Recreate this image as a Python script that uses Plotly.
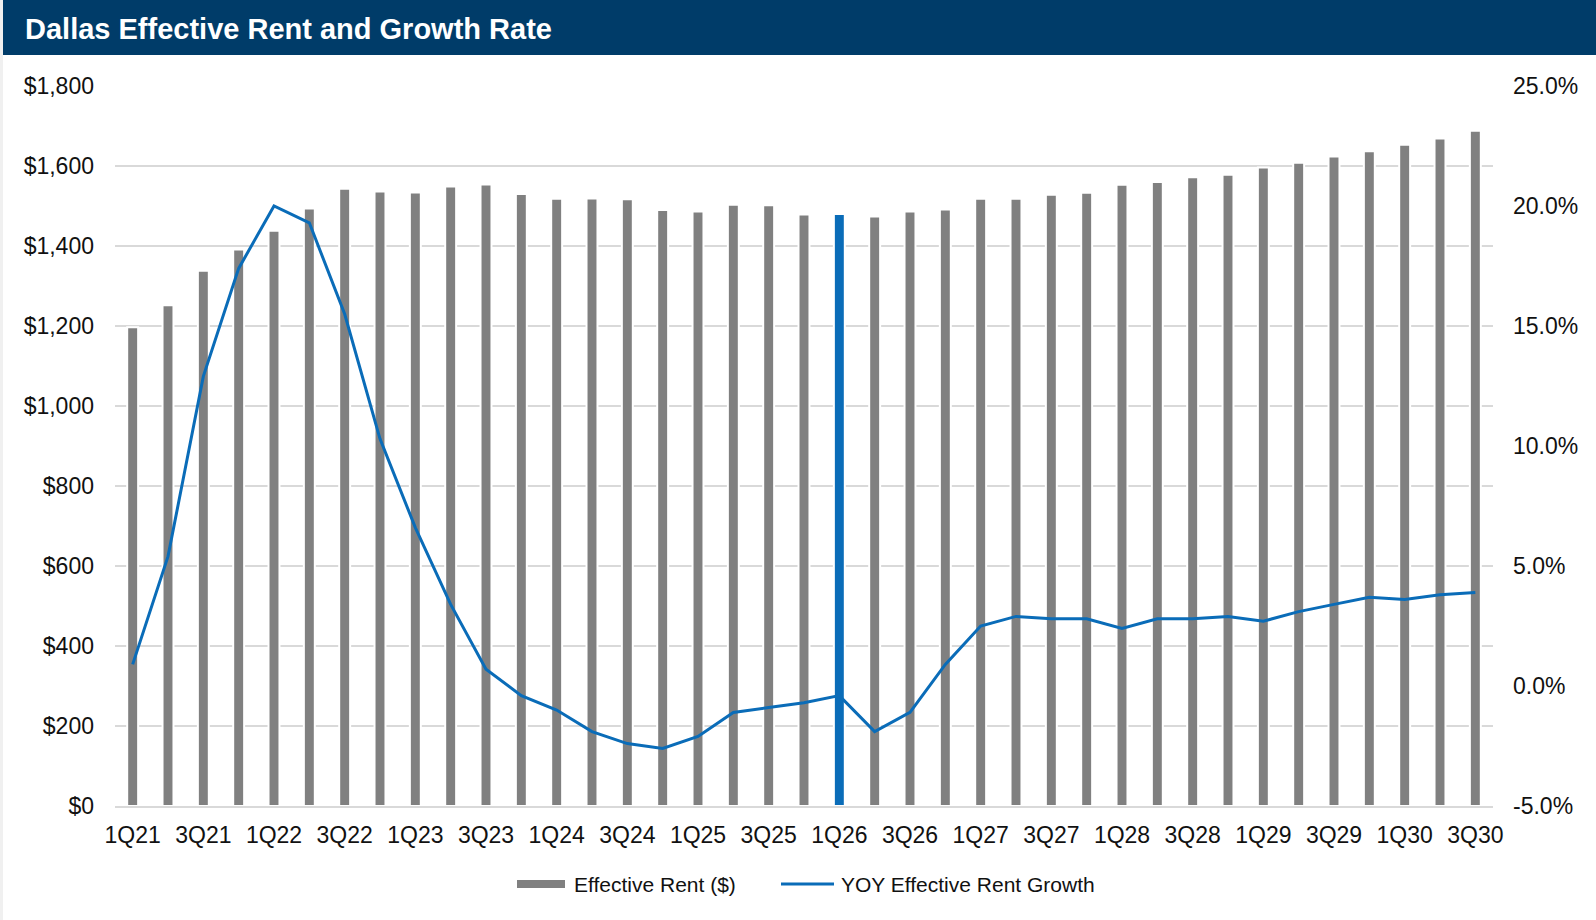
import plotly.graph_objects as go

# Quarterly periods, 1Q21 through 3Q30
quarters = [f"{q}Q{y:02d}" for y in range(21, 31) for q in range(1, 5)][:39]

# Effective rent ($ per unit)
effective_rent = [1197, 1252, 1338, 1391, 1438, 1494, 1543, 1536,
                  1534, 1549, 1554, 1530, 1518, 1519, 1517, 1490,
                  1486, 1503, 1502, 1479, 1480, 1474, 1486, 1491,
                  1518, 1518, 1528, 1533, 1553, 1560, 1572, 1578,
                  1596, 1608, 1624, 1637, 1653, 1669, 1688]

# Year-over-year effective rent growth (%)
yoy_growth = [0.9, 5.4, 12.9, 17.4, 20.0, 19.3, 15.5, 10.3,
              6.6, 3.4, 0.7, -0.4, -1.0, -1.9, -2.4, -2.6,
              -2.1, -1.1, -0.9, -0.7, -0.4, -1.9, -1.1, 0.9,
              2.5, 2.9, 2.8, 2.8, 2.4, 2.8, 2.8, 2.9,
              2.7, 3.1, 3.4, 3.7, 3.6, 3.8, 3.9]

tick_labels = quarters[::2]
growth_ticks = [-5, 0, 5, 10, 15, 20, 25]
growth_tick_text = [f"{v:.1f}%" for v in growth_ticks]
current_quarter = "1Q26"

title_text = "Dallas Effective Rent and Growth Rate"
rent_name = "Effective Rent ($)"
growth_name = "YOY Effective Rent Growth"

GRAY = "#808080"
BLUE = "#0A6CB8"
NAVY = "#003C69"
GRID = "#D9D9D9"
TEXT = "#111111"
FONT = "Liberation Sans, Arial, sans-serif"

W, H = 1596, 920
ML, MR, MT, MB = 115, 103, 86, 114
PW, PH = W - ML - MR, H - MT - MB


def px_x(px):
    return (px - ML) / PW


def px_y(py):
    return (H - MB - py) / PH


bar_colors = [BLUE if q == current_quarter else GRAY for q in quarters]

fig = go.Figure()
fig.add_trace(go.Bar(
    x=quarters, y=effective_rent, name=rent_name,
    marker=dict(color=bar_colors, line=dict(color="white", width=2)),
    width=0.31, yaxis="y", showlegend=False,
))
fig.add_trace(go.Scatter(
    x=quarters, y=yoy_growth, name=growth_name, mode="lines",
    line=dict(color=BLUE, width=3), yaxis="y2", showlegend=False,
))

shapes = [
    # header band
    dict(type="rect", xref="paper", yref="paper",
         x0=px_x(3), x1=px_x(W + 2), y0=px_y(55), y1=px_y(-2),
         fillcolor=NAVY, line=dict(width=0), layer="below"),
    # thin left frame strip
    dict(type="rect", xref="paper", yref="paper",
         x0=px_x(-2), x1=px_x(3), y0=px_y(H + 2), y1=px_y(-2),
         fillcolor="#F0F0F0", line=dict(width=0), layer="below"),
    # legend swatches
    dict(type="rect", xref="paper", yref="paper",
         x0=px_x(517), x1=px_x(565), y0=px_y(888), y1=px_y(880),
         fillcolor=GRAY, line=dict(width=0)),
    dict(type="line", xref="paper", yref="paper",
         x0=px_x(781), x1=px_x(834), y0=px_y(884), y1=px_y(884),
         line=dict(color=BLUE, width=3)),
]

annotations = [
    dict(text=f"<b>{title_text}</b>", xref="paper", yref="paper",
         x=px_x(23), y=px_y(29), xanchor="left", yanchor="middle",
         showarrow=False, font=dict(family=FONT, size=29, color="white")),
    dict(text=rent_name, xref="paper", yref="paper",
         x=px_x(572), y=px_y(884), xanchor="left", yanchor="middle",
         showarrow=False, font=dict(family=FONT, size=21, color=TEXT)),
    dict(text=growth_name, xref="paper", yref="paper",
         x=px_x(839), y=px_y(884), xanchor="left", yanchor="middle",
         showarrow=False, font=dict(family=FONT, size=21, color=TEXT)),
]

fig.update_layout(
    width=W, height=H,
    margin=dict(l=ML, r=MR, t=MT, b=MB, pad=0),
    paper_bgcolor="white", plot_bgcolor="white",
    font=dict(family=FONT, size=23, color=TEXT),
    bargap=0.69,
    xaxis=dict(
        type="category", categoryorder="array", categoryarray=quarters,
        tickmode="array", tickvals=tick_labels, ticktext=tick_labels,
        showgrid=False, showline=True, linecolor=GRID, linewidth=1.5,
        ticks="", ticklabelstandoff=8, tickangle=0,
        range=[-0.5, len(quarters) - 0.5],
    ),
    yaxis=dict(
        range=[0, 1800], dtick=200, tickprefix="$", tickformat=",d",
        showgrid=True, gridcolor=GRID, gridwidth=1.5,
        zeroline=False, showline=False, ticks="", ticklabelstandoff=20,
    ),
    yaxis2=dict(
        overlaying="y", side="right", range=[-5, 25],
        tickmode="array", tickvals=growth_ticks, ticktext=growth_tick_text,
        showgrid=False, zeroline=False,
        showline=False, ticks="", ticklabelstandoff=19,
    ),
    shapes=shapes,
    annotations=annotations,
    showlegend=False,
)

fig.write_html("out.html")
